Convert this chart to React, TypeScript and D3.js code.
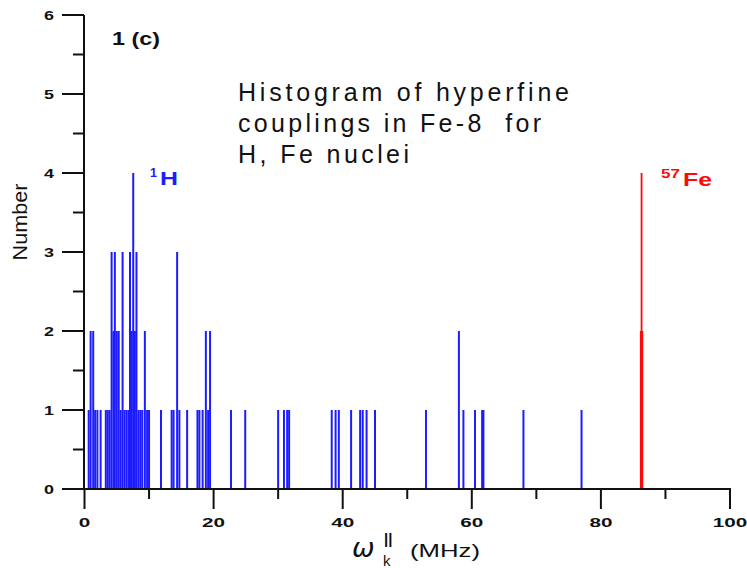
import React from "react";
import * as d3 from "d3";

const hValues = [0.65, 0.95, 1.35, 1.65, 2.0, 2.5, 3.3, 3.6, 3.9, 4.2, 4.5, 4.7, 5.0, 5.3, 5.6, 5.9, 6.2, 6.5, 6.8, 7.05, 7.3, 7.55, 7.8, 8.05, 8.35, 8.65, 8.95, 9.35, 9.7, 10.0, 11.85, 13.5, 13.8, 14.35, 14.7, 15.9, 17.5, 17.8, 18.3, 18.8, 19.15, 19.45, 22.7, 24.9, 30.0, 30.9, 31.4, 31.7, 38.3, 38.9, 39.4, 41.3, 42.7, 43.1, 43.7, 45.0, 52.9, 58.0, 58.7, 60.5, 61.6, 61.8, 68.0, 77.0];
const hCounts = [1, 2, 2, 1, 1, 1, 1, 1, 1, 3, 2, 3, 2, 2, 1, 3, 1, 1, 1, 3, 2, 4, 2, 3, 1, 1, 1, 2, 1, 1, 1, 1, 1, 3, 1, 1, 1, 1, 1, 2, 1, 2, 1, 1, 1, 1, 1, 1, 1, 1, 1, 1, 1, 1, 1, 1, 1, 2, 1, 1, 1, 1, 1, 1];
const feValues = [86.3, 86.18, 86.42];
const feCounts = [4, 2, 2];

const xMajorTicks = [0, 20, 40, 60, 80, 100];
const xMinorTicks = [10, 30, 50, 70, 90];
const yMajorTicks = [0, 1, 2, 3, 4, 5, 6];
const yMinorTicks = [0.5, 1.5, 2.5, 3.5, 4.5, 5.5];

const titleLines = ["Histogram of hyperfine", "couplings in Fe-8  for", "H, Fe nuclei"];
const titleWidths = [331, 303, 171];

export default function App() {
  const x = d3.scaleLinear().domain([0, 100]).range([84.5, 730]);
  const y = d3.scaleLinear().domain([0, 6]).range([489, 15]);
  const font = "'Liberation Sans', Arial, Helvetica, sans-serif";
  const blue = "#1c1cff";
  const red = "#ff0a0a";

  return (
    <svg width={747} height={568} style={{ position: "absolute", left: 0, top: 0, background: "#fff" }}>
      {/* bars */}
      {hValues.map((v, i) => (
        <line key={"h" + i} x1={x(v)} x2={x(v)} y1={y(0)} y2={y(hCounts[i])} stroke={blue} strokeWidth={2} />
      ))}
      {feValues.map((v, i) => (
        <line key={"f" + i} x1={x(v)} x2={x(v)} y1={y(0)} y2={y(feCounts[i])} stroke={red} strokeWidth={1.8} />
      ))}

      {/* y axis */}
      <line x1={84} x2={84} y1={y(6)} y2={y(0) + 1} stroke="#111" strokeWidth={2} />
      {yMajorTicks.map((t) => (
        <g key={"ym" + t}>
          <line x1={62} x2={84} y1={y(t)} y2={y(t)} stroke="#111" strokeWidth={2} />
          <text x={54} y={y(t) + 5} textAnchor="end" fontFamily={font} fontWeight="bold" fontSize={13} textLength={10} lengthAdjust="spacingAndGlyphs" fill="#111">
            {t}
          </text>
        </g>
      ))}
      {yMinorTicks.map((t) => (
        <line key={"yn" + t} x1={73} x2={84} y1={y(t)} y2={y(t)} stroke="#111" strokeWidth={2} />
      ))}

      {/* x axis */}
      <line x1={83} x2={731} y1={489} y2={489} stroke="#111" strokeWidth={2} />
      {xMajorTicks.map((t) => (
        <g key={"xm" + t}>
          <line x1={x(t)} x2={x(t)} y1={489} y2={509} stroke="#111" strokeWidth={2} />
          <text x={x(t)} y={527} textAnchor="middle" fontFamily={font} fontWeight="bold" fontSize={13} textLength={String(t).length * 11.5} lengthAdjust="spacingAndGlyphs" fill="#111">
            {t}
          </text>
        </g>
      ))}
      {xMinorTicks.map((t) => (
        <line key={"xn" + t} x1={x(t)} x2={x(t)} y1={489} y2={499} stroke="#111" strokeWidth={2} />
      ))}

      {/* y axis title */}
      <text transform="translate(27,222) rotate(-90)" textAnchor="middle" fontFamily={font} fontSize={21} textLength={77} lengthAdjust="spacingAndGlyphs" fill="#111">
        Number
      </text>

      {/* x axis title */}
      <text x={352} y={557} fontFamily="'DejaVu Sans', sans-serif" fontStyle="italic" fontSize={27} fill="#111">
        ω
      </text>
      <text x={384} y={544} fontFamily={font} fontWeight="bold" fontSize={15} fill="#111">
        ||
      </text>
      <text x={383} y={566} fontFamily={font} fontSize={15} fill="#111">
        k
      </text>
      <text x={410} y={557} fontFamily={font} fontSize={18} textLength={70} lengthAdjust="spacingAndGlyphs" fill="#111">
        (MHz)
      </text>

      {/* panel label */}
      <text x={112} y={45} fontFamily={font} fontWeight="bold" fontSize={18} textLength={48} lengthAdjust="spacingAndGlyphs" fill="#111">
        1 (c)
      </text>

      {/* title */}
      {titleLines.map((s, i) => (
        <text key={"t" + i} x={238} y={101 + i * 31} fontFamily={font} fontSize={25} textLength={titleWidths[i]} lengthAdjust="spacing" fill="#111" style={{ whiteSpace: "pre" }}>
          {s}
        </text>
      ))}

      {/* nucleus labels */}
      <text x={150} y={177} fontFamily={font} fontWeight="bold" fontSize={12} textLength={7} lengthAdjust="spacingAndGlyphs" fill={blue}>
        1
      </text>
      <text x={160} y={185} fontFamily={font} fontWeight="bold" fontSize={19} textLength={18} lengthAdjust="spacingAndGlyphs" fill={blue}>
        H
      </text>
      <text x={661} y={178} fontFamily={font} fontWeight="bold" fontSize={12} textLength={19} lengthAdjust="spacingAndGlyphs" fill={red}>
        57
      </text>
      <text x={683} y={186} fontFamily={font} fontWeight="bold" fontSize={19} textLength={29} lengthAdjust="spacingAndGlyphs" fill={red}>
        Fe
      </text>
    </svg>
  );
}
